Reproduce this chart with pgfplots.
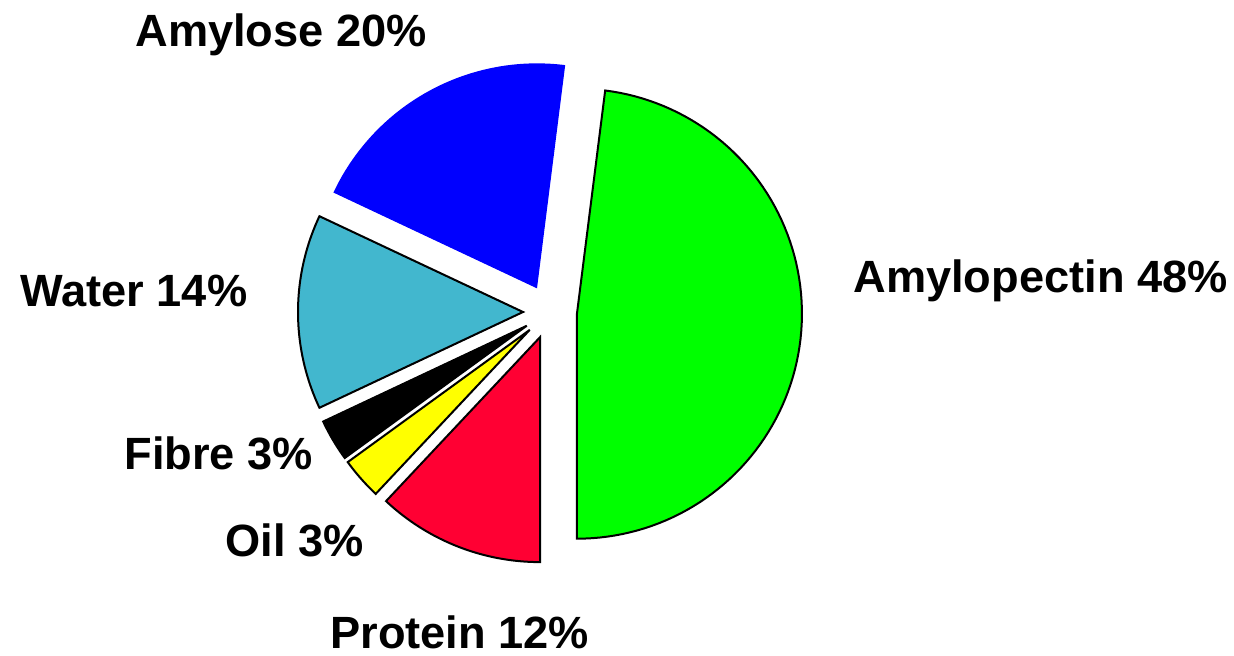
\documentclass[border=0pt]{standalone}
\usepackage{pgfplots}
\pgfplotsset{compat=1.18}
\usepackage{fontspec}
\setmainfont{Liberation Sans}
\definecolor{amylopectin}{RGB}{0,255,0}
\definecolor{amylose}{RGB}{0,0,255}
\definecolor{water}{RGB}{66,183,206}
\definecolor{fibre}{RGB}{0,0,0}
\definecolor{oil}{RGB}{255,255,0}
\definecolor{protein}{RGB}{255,0,51}

% pie in pixel units: centre (550,343), radius 225, slices pulled out by 27
\newcommand\pieslice[3]{% #1 cumulative % before slice, #2 slice %, #3 style
  \pgfmathsetmacro\sA{-90+3.6*#1}%
  \pgfmathsetmacro\sB{-90+3.6*(#1+#2)}%
  \pgfmathsetmacro\sM{(\sA+\sB)/2}%
  \pgfmathsetmacro\ox{550+27*cos(\sM)}%
  \pgfmathsetmacro\oy{343+27*sin(\sM)}%
  \edef\doslice{\noexpand\addplot[#3, domain=\sA:\sB, samples=90,
      variable=\noexpand\t]
    ({\ox+225*cos(\noexpand\t)},{\oy+225*sin(\noexpand\t)})
    -- (axis cs:\ox,\oy) -- cycle;}%
  \doslice}

\tikzset{lbl/.style={font=\fontsize{22.6}{27}\selectfont\bfseries,
    inner sep=0pt, anchor=base west}}

\begin{document}
\begin{tikzpicture}
  \begin{axis}[
    width=617pt, height=327.5pt, scale only axis,
    xmin=0, xmax=1234, ymin=0, ymax=655,
    hide axis, clip=false,
    ]
    \path (rel axis cs:0,0) rectangle (rel axis cs:1,1);
    \pieslice{0}{48}{fill=amylopectin, draw=black, line width=1pt}
    \pieslice{48}{20}{fill=amylose, draw=none}
    \pieslice{68}{14}{fill=water, draw=black, line width=1pt}
    \pieslice{82}{3}{fill=fibre, draw=black, line width=1pt}
    \pieslice{85}{3}{fill=oil, draw=black, line width=1pt}
    \pieslice{88}{12}{fill=protein, draw=black, line width=1pt}

    \node[lbl] at (axis cs:135,608) {Amylose 20\%};
    \node[lbl] at (axis cs:853,363) {Amylopectin 48\%};
    \node[lbl] at (axis cs:20,349) {Water 14\%};
    \node[lbl] at (axis cs:124,186) {Fibre 3\%};
    \node[lbl] at (axis cs:225,99) {Oil 3\%};
    \node[lbl] at (axis cs:330,7) {Protein 12\%};
  \end{axis}
\end{tikzpicture}
\end{document}
